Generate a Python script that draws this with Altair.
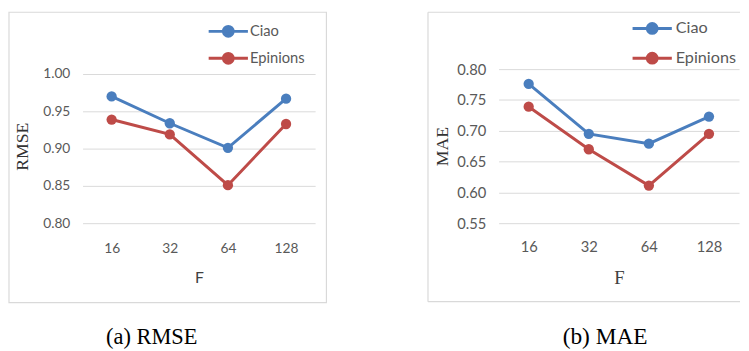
import altair as alt
import pandas as pd

F_VALUES = ["16", "32", "64", "128"]
SERIES = ["Ciao", "Epinions"]
RMSE_CIAO = [0.970, 0.934, 0.901, 0.967]
RMSE_EPINIONS = [0.939, 0.919, 0.851, 0.933]
MAE_CIAO = [0.776, 0.695, 0.679, 0.723]
MAE_EPINIONS = [0.739, 0.670, 0.611, 0.695]
RMSE_TICKS = [0.80, 0.85, 0.90, 0.95, 1.00]
MAE_TICKS = [0.55, 0.60, 0.65, 0.70, 0.75, 0.80]

COLORS = ["#4A7EBE", "#BE4B48"]
SYMBOL = "M-2,0L2,0M-0.5,0A0.5,0.5 0 1,1 0.5,0A0.5,0.5 0 1,1 -0.5,0Z"
BORDER = "#d9d9d9"


def frame(box, open_right):
    one = alt.Chart(pd.DataFrame({"a": [0]}))
    x0, x1, y0, y1 = box
    if not open_right:
        return [one.mark_rect(filled=False, stroke=BORDER, strokeWidth=1.2).encode(
            x=alt.value(x0), x2=alt.value(x1), y=alt.value(y0), y2=alt.value(y1))]
    rule = one.mark_rule(stroke=BORDER, strokeWidth=1.2)
    return [
        rule.encode(x=alt.value(x0), x2=alt.value(x1), y=alt.value(y0)),
        rule.encode(x=alt.value(x0), x2=alt.value(x1), y=alt.value(y1)),
        rule.encode(x=alt.value(x0), y=alt.value(y0), y2=alt.value(y1)),
    ]


def panel(ciao, epin, ytitle, ticks, ymax, w, h, fs, xfont, xsize, caption, capfs, box,
          open_right, legxy, legfs, legrow, legoff, ytp, xlp, xtp, cap_dx, cap_off):
    df = pd.DataFrame({
        "F": F_VALUES * 2,
        "series": [SERIES[0]] * 4 + [SERIES[1]] * 4,
        "value": ciao + epin,
    })
    x = alt.X("F:N", sort=F_VALUES, title="F",
              axis=alt.Axis(labelAngle=0, ticks=False, domain=False, labelPadding=xlp,
                            labelFont="Lato", labelFontSize=fs, labelColor="#595959",
                            titleFont=xfont, titleFontSize=xsize, titleFontWeight="normal",
                            titleColor="#404040", titlePadding=xtp))
    y = alt.Y("value:Q", title=ytitle,
              scale=alt.Scale(domain=[ticks[0], ymax], nice=False, zero=False),
              axis=alt.Axis(values=ticks, format=".2f", ticks=False, domain=False,
                            gridColor="#d9d9d9", labelPadding=13, labelFont="Lato",
                            labelFontSize=fs, labelColor="#595959",
                            titleFont="Liberation Serif", titleFontSize=18,
                            titleFontWeight="normal", titleColor="#333333",
                            titlePadding=ytp))
    color = alt.Color("series:N",
                      scale=alt.Scale(domain=SERIES, range=COLORS),
                      legend=alt.Legend(title=None, orient="none", legendX=legxy[0],
                                        legendY=legxy[1], symbolType=SYMBOL,
                                        symbolSize=400, symbolStrokeWidth=3,
                                        labelFont="Lato", labelFontSize=legfs,
                                        labelColor="#595959", labelOffset=legoff,
                                        rowPadding=legrow, padding=0))
    base = alt.Chart(df)
    line = base.mark_line(strokeWidth=3).encode(x=x, y=y, color=color)
    pts = base.mark_point(filled=True, size=110, opacity=1).encode(x=x, y=y, color=color)
    return alt.layer(*frame(box, open_right), line, pts).properties(
        width=w, height=h,
        title=alt.TitleParams(caption, orient="bottom", font="Liberation Serif",
                              fontSize=capfs, fontWeight="normal", color="black",
                              dx=cap_dx, offset=cap_off))


left = panel(RMSE_CIAO, RMSE_EPINIONS, "RMSE", RMSE_TICKS, 1.00658, 237, 157, 14,
             "Lato", 16, "(a) RMSE", 22.8, (-75, 248.5, -58, 238), False, (137, -50), 15,
             4.5, 10.5, 11.5, 18.5, 14.5, -48, 24)
right = panel(MAE_CIAO, MAE_EPINIONS, "MAE", MAE_TICKS, 0.80, 245, 157, 15,
              "Liberation Serif", 19, "(b) MAE", 23.8, (-72, 246, -58, 237), True,
              (145, -53), 16.5, 7.4, 12.5, 5, 17, 14.5, -14, 24)

chart = alt.hconcat(left, right, spacing=101).resolve_scale(color="independent").resolve_legend(
    color="independent").properties(padding=0, background="white").configure_view(stroke=None)

chart.save("out.html", embed_options={"renderer": "svg", "actions": False})
